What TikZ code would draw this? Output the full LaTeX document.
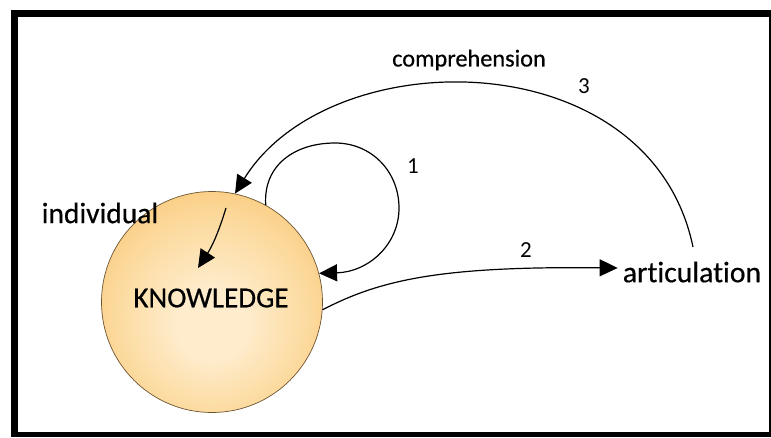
\documentclass[tikz,border=0pt]{standalone}
\usepackage{fontspec}
\setmainfont{Carlito}[Ligatures=NoCommon]
\newfontfamily\lblfont{Carlito}[Ligatures=NoCommon,FakeBold=0.5]
\usetikzlibrary{arrows.meta}
\definecolor{kLight}{RGB}{254,236,204}
\definecolor{kSoft}{RGB}{252,218,158}
\definecolor{kMid}{RGB}{248,192,104}
\definecolor{kDeep}{RGB}{244,172,62}
\definecolor{kEdge}{RGB}{238,155,35}
\definecolor{kLine}{RGB}{110,85,50}
\pgfdeclareradialshading{ballshade}{\pgfpoint{0bp}{-6bp}}{color(0bp)=(kLight); color(8bp)=(kLight); color(22bp)=(kSoft); color(36bp)=(kMid); color(45bp)=(kDeep); color(50bp)=(kEdge)}
\begin{document}
\begin{tikzpicture}[x=1pt,y=-1pt,
  conn/.style={line width=1.2pt,-{Triangle[length=18pt,width=17pt]}},
  lbl/.style={inner sep=0pt,font=\lblfont\fontsize{29.5}{34}\selectfont},
  num/.style={inner sep=0pt,font=\fontsize{23}{27}\selectfont},
  ball/.style={circle,minimum size=221pt,inner sep=0pt,shading=ballshade,draw=kLine,line width=0.7pt}]
\useasboundingbox (0,0) rectangle (771,437);
% frame
\fill[black] (11,10) rectangle (771,437);
\fill[white] (18,17) rectangle (769,432);
% circle
\node[ball] (K) at (212,302) {};
\node[lbl,font=\lblfont\fontsize{29}{34}\selectfont] (kt) at (211,298) {KNOWLEDGE};
% labels
\node[lbl] (ind) at (100,213) {individual};
\node[lbl,font=\lblfont\fontsize{24.3}{29}\selectfont] (comp) at (469,60) {comprehension};
\node[lbl,font=\lblfont\fontsize{29.7}{34}\selectfont] (art) at (692,272) {articulation};
\node[num] (n1) at (413,166) {1};
\node[num] (n2) at (526,250) {2};
\node[num] (n3) at (584,86) {3};
% connectors
\coordinate (a3s) at (693,247);
\draw[conn] (a3s) .. controls (650,40) and (330,40) .. (K.78);
\draw[conn] (K.61) .. controls (263,165) and (295,143) .. (335,143)
  .. controls (372,143) and (399,172) .. (399,208)
  .. controls (399,245) and (368,272) .. (K.15);
\draw[conn] (K.-4) .. controls (380,280) and (440,266) .. ([yshift=4pt,xshift=-5pt]art.west);
\coordinate (i1) at (226,208);
\coordinate (i2) at (198,268);
\draw[conn] (i1) to[bend left=8] (i2);
\end{tikzpicture}
\end{document}
